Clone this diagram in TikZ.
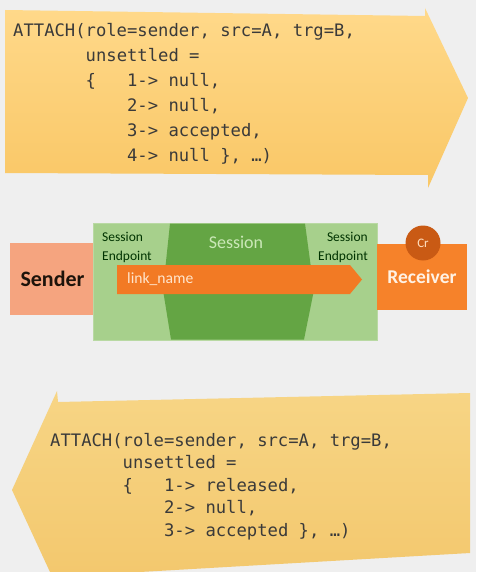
\documentclass[tikz,border=0pt]{standalone}
\usepackage{fontspec}
\setmainfont{Carlito}
\setmonofont{DejaVu Sans Mono}
\definecolor{bg}{HTML}{EFEFEF}
\definecolor{arrtop}{HTML}{FFD98A}
\definecolor{arrbot}{HTML}{F9C766}
\definecolor{arr2top}{HTML}{F7D585}
\definecolor{arr2bot}{HTML}{F3C86E}
\definecolor{codetxt}{HTML}{3A3A3A}
\definecolor{sendercol}{HTML}{F5A47F}
\definecolor{lightgreen}{HTML}{A7D08C}
\definecolor{darkgreen}{HTML}{64A544}
\definecolor{sessiontxt}{HTML}{CBE8B8}
\definecolor{linkcol}{HTML}{F27A24}
\definecolor{recvcol}{HTML}{F6822A}
\definecolor{crcol}{HTML}{C95A14}
\tikzset{
  codeblock/.style={anchor=north west, inner sep=0pt, align=left, text=codetxt},
  endpointtxt/.style={inner sep=0pt, font=\fontsize{13.5}{19}\selectfont, text=black!80!green},
}
\newcommand\ind[1]{\phantom{#1}}
\begin{document}
\begin{tikzpicture}[x=1pt,y=-1pt]
\fill[bg] (0,0) rectangle (476,572);
\useasboundingbox (0,0) rectangle (476,572);
% top arrow
\shade[top color=arrtop, bottom color=arrbot] (5,10) -- (425,16) -- (425,8) -- (468,98) -- (428,188) -- (428,175) -- (5,173) -- cycle;
\node[codeblock, font=\fontsize{17.2}{25}\selectfont\ttfamily] (code1) at (13,23) {%
ATTACH(role=sender, src=A, trg=B,\\
\ind{0000000}unsettled =\\
\ind{0000000}\{\ind{000}1-> null,\\
\ind{00000000000}2-> null,\\
\ind{00000000000}3-> accepted,\\
\ind{00000000000}4-> null \}, …)};
% bottom arrow
\shade[top color=arr2top, bottom color=arr2bot] (470,393) -- (58,402) -- (57,391) -- (12,490) -- (50,572) -- (140,572) -- (470,553) -- cycle;
\node[codeblock, font=\fontsize{17.2}{22.5}\selectfont\ttfamily] (code2) at (50,433) {%
ATTACH(role=sender, src=A, trg=B,\\
\ind{0000000}unsettled =\\
\ind{0000000}\{\ind{000}1-> released,\\
\ind{00000000000}2-> null,\\
\ind{00000000000}3-> accepted \}, …)};
% sender
\node[fill=sendercol, minimum width=85pt, minimum height=72pt, inner sep=0pt,
  font=\bfseries\fontsize{22}{24}\selectfont, text=black!85!brown] (sender) at (52.5,279) {Sender};
% session box
\fill[lightgreen, draw=lightgreen!80!white] (93,223) rectangle (377,340);
\fill[darkgreen] (170,223.5) -- (163,290) -- (171,339.5) -- (304,339.5) -- (314,290) -- (305,223.5) -- cycle;
\node[text=sessiontxt, font=\fontsize{18}{20}\selectfont, inner sep=0pt] (session) at (236,242) {Session};
\node[endpointtxt, anchor=west, align=left] (ep1) at (102,247) {Session\\Endpoint};
\node[endpointtxt, anchor=east, align=right] (ep2) at (368,247) {Session\\Endpoint};
% link_name arrow
\fill[linkcol] (117,265) -- (350,265) -- (362,279.5) -- (350,294) -- (117,294) -- cycle;
\node[text=orange!20!white, font=\fontsize{15.6}{17}\selectfont, anchor=west, inner sep=0pt] (link) at (127,279) {link\_name};
% receiver
\node[fill=recvcol, minimum width=90pt, minimum height=66pt, inner sep=0pt,
  font=\bfseries\fontsize{19.5}{22}\selectfont, text=orange!10!white] (recv) at (422,277) {Receiver};
\node[circle, fill=crcol, minimum size=35pt, inner sep=0pt, text=orange!25!white,
  font=\fontsize{13}{15}\selectfont] (cr) at (423,243) {Cr};
\end{tikzpicture}
\end{document}
